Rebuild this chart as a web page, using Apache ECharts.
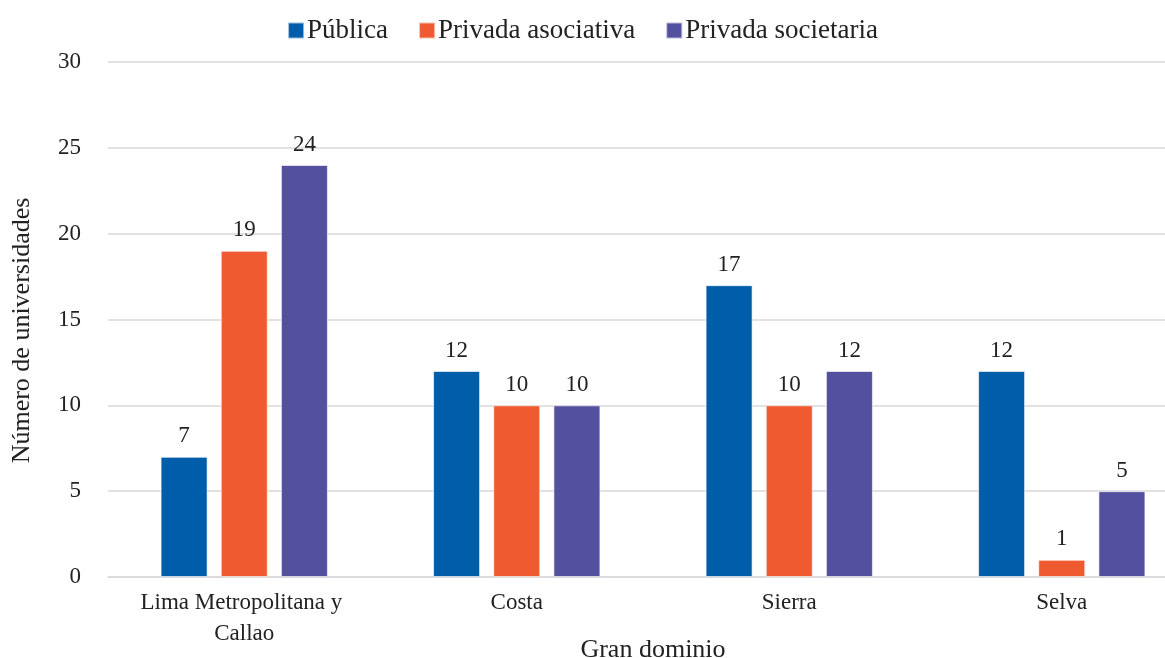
<!DOCTYPE html>
<html><head><meta charset="utf-8">
<script src="https://cdn.jsdelivr.net/npm/echarts@6/dist/echarts.min.js"></script>
<style>html,body{margin:0;padding:0;background:#fff}#c{width:1165px;height:658px}</style>
</head><body><div id="c"></div>
<script>
const categories = ["Lima Metropolitana y Callao", "Costa", "Sierra", "Selva"];
const seriesNames = ["Pública", "Privada asociativa", "Privada societaria"];
const publica = [7, 12, 17, 12];
const privadaAsociativa = [19, 10, 10, 1];
const privadaSocietaria = [24, 10, 12, 5];
const colors = ["#005DAA", "#F05A30", "#5450A0"];
const FONT = "Liberation Serif";

const chart = echarts.init(document.getElementById('c'), null, {renderer: 'canvas'});
const mk = (name, data, color) => ({
  name, type: 'bar', data,
  barWidth: 47, barGap: '28%',
  itemStyle: {color, borderColor: 'rgba(255,255,255,0.6)', borderWidth: 1},
  label: {show: true, position: 'top', distance: 9, color: '#222', fontFamily: FONT, fontSize: 23},
  emphasis: {disabled: true}
});
chart.setOption({
  animation: false,
  textStyle: {fontFamily: FONT},
  color: colors,
  legend: {
    top: 12, left: 'center', itemWidth: 16, itemHeight: 16, itemGap: 30,
    icon: 'rect',
    textStyle: {fontFamily: FONT, fontSize: 27, color: '#222', padding: [0,0,0,-2]},
    data: seriesNames
  },
  grid: {left: 108, right: -33, top: 62, bottom: 81, containLabel: false, outerBoundsMode: 'none'},
  xAxis: {
    type: 'category', data: categories,
    axisLine: {show: true, lineStyle: {color: '#d9d9d9', width: 1.5}},
    axisTick: {show: false},
    axisLabel: {fontFamily: FONT, fontSize: 23, color: '#222', margin: 10, width: 235, overflow: 'break', lineHeight: 31, interval: 0},
    name: 'Gran dominio', nameLocation: 'middle', nameGap: 60, nameMoveOverlap: false,
    nameTextStyle: {fontFamily: FONT, fontSize: 26, color: '#222'}
  },
  yAxis: {
    type: 'value', min: 0, max: 30, interval: 5,
    axisLine: {show: false}, axisTick: {show: false},
    splitLine: {lineStyle: {color: '#d9d9d9', width: 1.5}},
    axisLabel: {fontFamily: FONT, fontSize: 23, color: '#222', margin: 27},
    name: 'Número de universidades', nameLocation: 'middle', nameGap: 73, nameRotate: 90, nameMoveOverlap: false,
    nameTextStyle: {fontFamily: FONT, fontSize: 26, color: '#222', padding: [0, 22, 0, 0]}
  },
  series: [
    mk(seriesNames[0], publica, colors[0]),
    mk(seriesNames[1], privadaAsociativa, colors[1]),
    mk(seriesNames[2], privadaSocietaria, colors[2])
  ]
});
</script></body></html>
